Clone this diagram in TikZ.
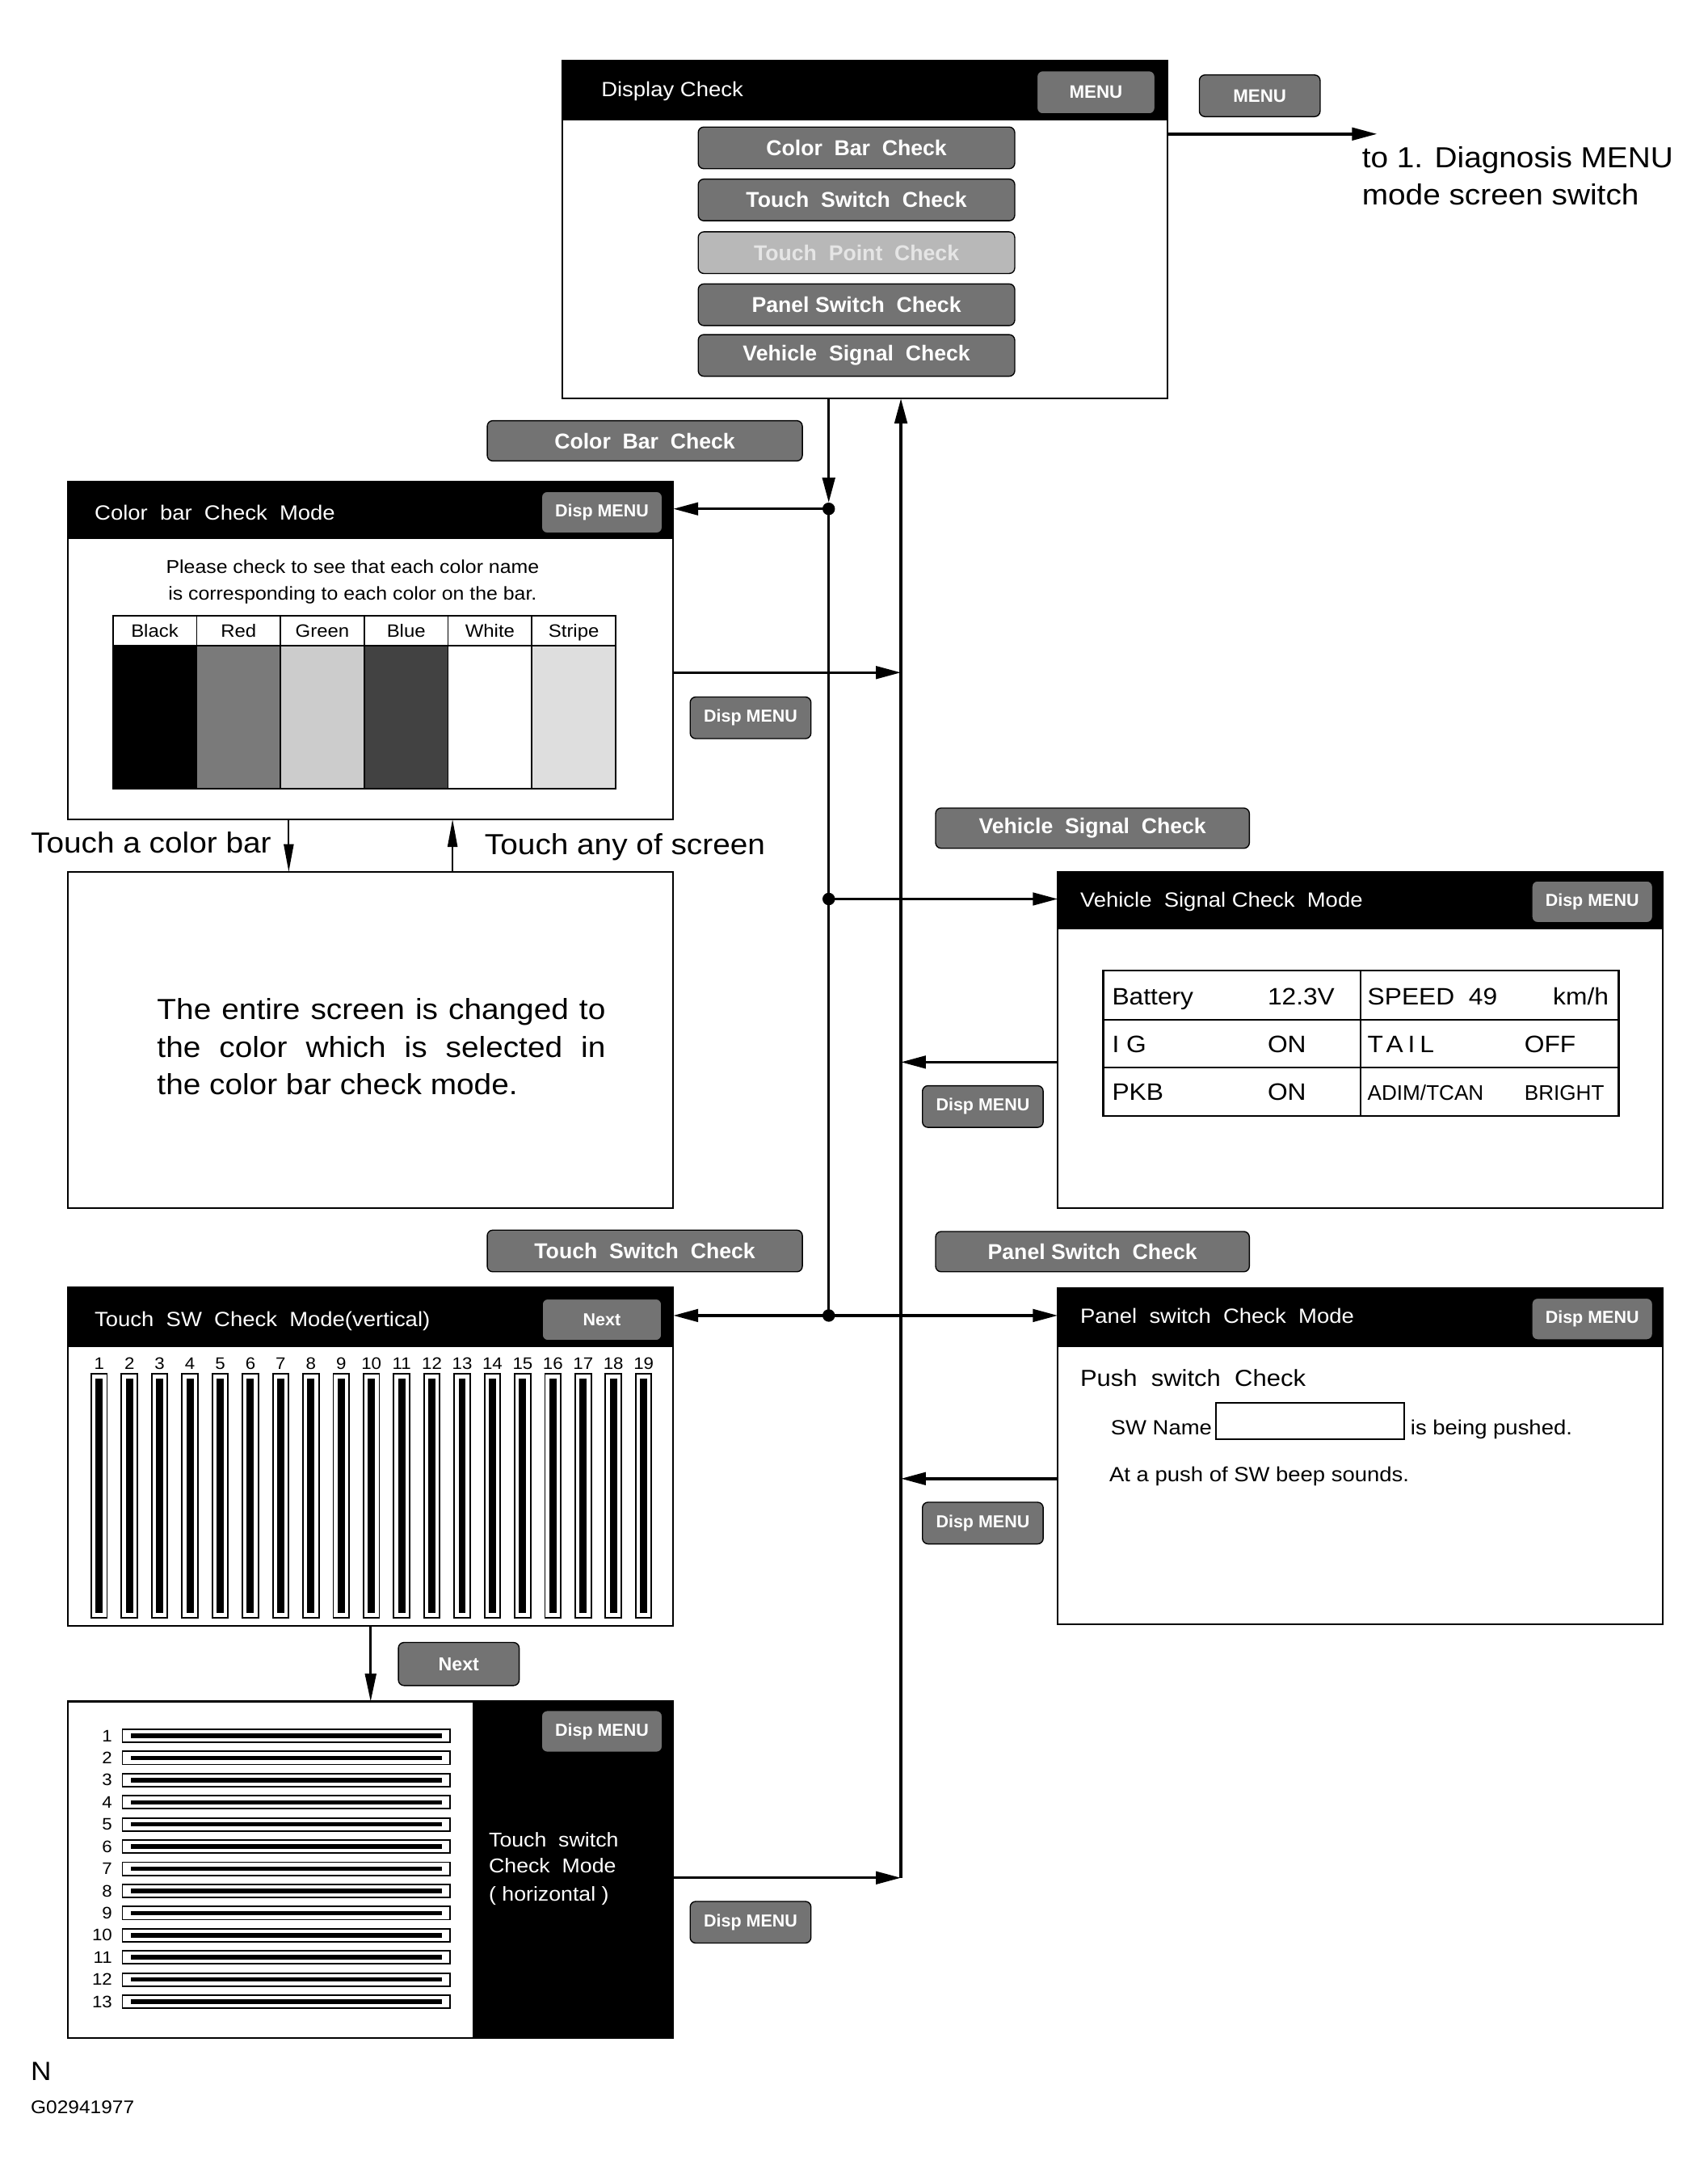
\documentclass[tikz,border=0pt]{standalone}
\usepackage{fontspec}
\setmainfont{Liberation Sans}[FakeStretch=1.08]
\newfontfamily\btnfont{Liberation Sans}
\usetikzlibrary{arrows.meta}
\newcommand\fsz[2]{\fontsize{#1}{#2}\selectfont}
\begin{document}
\begin{tikzpicture}[x=1pt,y=-1pt,
  screen/.style={draw, line width=1.3pt, minimum width=436pt, anchor=north west, inner sep=0pt, outer sep=0pt},
  btn/.style={draw=black, line width=0.8pt, rounded corners=4pt, fill=black!55, text=white, font=\btnfont\bfseries\fsz{15.5}{18}, inner sep=0pt, minimum height=30pt},
  dbtn/.style={btn, minimum width=87pt, font=\btnfont\bfseries\fsz{12.5}{14}},
  title/.style={text=white, anchor=base west, inner sep=0pt, font=\fsz{14.8}{17}},
  lbl/.style={anchor=base west, inner sep=0pt},
  big/.style={font=\fsz{20.9}{25}},
  vt/.style={font=\fsz{17.1}{20}},
  conn/.style={line width=2pt},
  arr/.style={conn, -{Triangle[length=18pt,width=9pt]}},
  thinarr/.style={line width=1.3pt, -{Triangle[length=20pt,width=7pt]}},
]
\useasboundingbox (0,0) rectangle (1230,1568);

% ---------------- Display Check
\node[screen, minimum height=243pt] (dc) at (405,44) {};
\fill (dc.north west) rectangle ([yshift=-43pt]dc.north east);
\node[title] (dct) at (433,69.5) {Display Check};
\node[btn, minimum width=85pt, minimum height=31pt, font=\btnfont\bfseries\fsz{13}{15}] (dcm) at (789.5,66.5) {MENU};
\node[btn, minimum width=228pt] (db1) at (617,106.5) {Color\ \ Bar\ \ Check};
\node[btn, minimum width=228pt] (db2) at (617,144) {Touch\ \ Switch\ \ Check};
\node[btn, minimum width=228pt, fill=black!28, text=black!10] (db3) at (617,182) {Touch\ \ Point\ \ Check};
\node[btn, minimum width=228pt] (db4) at (617,219.5) {Panel Switch\ \ Check};
\node[btn, minimum width=228pt] (db5) at (617,256) {Vehicle\ \ Signal\ \ Check};

\node[btn, minimum width=87pt, font=\btnfont\bfseries\fsz{13}{15}] (menu) at (907.5,69) {MENU};
\coordinate (diag) at (992,96.5);
\draw[arr] (dc.east |- diag) -- (diag);
\node[lbl, big] (diag1) at (981,120.5) {to 1. Diagnosis MENU};
\node[lbl, big] (diag2) at (981,147.5) {mode screen switch};

% ---------------- junctions / trunk lines
\coordinate (j1) at (597,366.5);
\coordinate (j2) at (597,647.5);
\coordinate (j3) at (597,947.5);
\coordinate (lb1) at (649,484.4);
\coordinate (lb2) at (649,765);
\coordinate (lb3) at (649,1065);
\coordinate (lb4) at (649,1352.5);

\draw[arr, shorten >=4.5pt] (dc.south -| j1) -- (j1);
\draw[conn] (j1) -- (j3);

% ---------------- Color bar check
\node[btn, minimum width=227pt, minimum height=29pt] (cbb) at (464.5,317.5) {Color\ \ Bar\ \ Check};
\node[screen, minimum height=243pt] (cb) at (49,347) {};
\fill (cb.north west) rectangle ([yshift=-41.5pt]cb.north east);
\node[title] (cbt) at (68,374.3) {Color\ \ bar\ \ Check\ \ Mode};
\node[dbtn] (cbm) at (433.6,369) {Disp MENU};
\draw[arr] (j1) -- (j1 -| cb.east);
\node[anchor=base, inner sep=0pt, font=\fsz{13.4}{16}] (pc1) at (254,413) {Please check to see that each color name};
\node[anchor=base, inner sep=0pt, font=\fsz{13.4}{16}] (pc2) at (254,432) {is corresponding to each color on the bar.};
\foreach \i/\c in {0/black,1/black!52,2/black!20,3/black!74,4/white,5/black!13} {
  \fill[\c] (81.3+60.37*\i,465) rectangle (81.3+60.37*\i+60.37,568);
}
\foreach \i in {1,...,5} { \draw[line width=1pt] (81.3+60.37*\i,443.6) -- (81.3+60.37*\i,568); }
\draw[line width=1.1pt] (81.3,443.6) rectangle (443.5,568);
\draw[line width=1.6pt] (81.3,465) -- (443.5,465);
\foreach \i/\t in {0/Black,1/Red,2/Green,3/Blue,4/White,5/Stripe} {
  \node[anchor=base, inner sep=0pt, font=\fsz{12.9}{15}] (ch\i) at (81.3+60.37*\i+30.18,459) {\t};
}
\draw[arr] (lb1 -| cb.east) -- (lb1);
\node[dbtn] (dm1) at (540.7,517) {Disp MENU};

% ---------------- Entire screen
\node[screen, minimum height=242pt] (ce) at (49,628) {};
\draw[thinarr] ([xshift=-59pt]cb.south) -- ([xshift=-59pt]ce.north);
\draw[thinarr] ([xshift=59pt]ce.north) -- ([xshift=59pt]cb.south);
\node[lbl, big] (tcb) at (22,614.5) {Touch a color bar};
\node[lbl, big] (tas) at (349,615.5) {Touch any of screen};
\node[lbl, big] (es1) at (113,734.5) {\makebox[323pt][s]{The entire screen is changed to}};
\node[lbl, big] (es2) at (113,761.5) {\makebox[323pt][s]{the color which is selected in}};
\node[lbl, big] (es3) at (113,788.5) {the color bar check mode.};

% ---------------- Vehicle signal check
\node[btn, minimum width=226pt, minimum height=29pt] (vsb) at (787,596.5) {Vehicle\ \ Signal\ \ Check};
\node[screen, minimum height=242pt] (vs) at (762,628) {};
\fill (vs.north west) rectangle ([yshift=-41.5pt]vs.north east);
\node[title] (vst) at (778,653.3) {Vehicle\ \ Signal Check\ \ Mode};
\node[dbtn] (vsm) at (1147,649.5) {Disp MENU};
\draw[arr] (j2) -- (j2 -| vs.west);
\draw[line width=1.4pt] (794.8,699) rectangle (1166,803.8);
\draw[line width=1pt] (794.8,734.5) -- (1166,734.5) (794.8,769) -- (1166,769) (980.3,699) -- (980.3,803.8);
\node[lbl, vt] (vb) at (801,724) {Battery};
\node[lbl, vt] (vbv) at (913,724) {12.3V};
\node[lbl, vt] (vsp) at (985,724) {SPEED\ \ 49};
\node[vt, anchor=base east, inner sep=0pt] (vkm) at (1159,724) {km/h};
\node[lbl, vt] (vig) at (801,758) {\addfontfeature{LetterSpace=30}IG};
\node[lbl, vt] (vigv) at (913,758) {ON};
\node[lbl, vt] (vtl) at (985,758) {\addfontfeature{LetterSpace=20}TAIL};
\node[lbl, vt] (vtlv) at (1098,758) {OFF};
\node[lbl, vt] (vpk) at (801,792.5) {PKB};
\node[lbl, vt] (vpkv) at (913,792.5) {ON};
\node[lbl, font=\btnfont\fsz{15.2}{17}] (vad) at (985,792.5) {ADIM/TCAN};
\node[lbl, font=\btnfont\fsz{15.2}{17}] (vadv) at (1098,792.5) {BRIGHT};
\draw[arr] (lb2 -| vs.west) -- (lb2);
\node[dbtn] (dm2) at (708,797) {Disp MENU};

% ---------------- Touch switch (vertical)
\node[btn, minimum width=227pt] (tsb) at (464.5,901) {Touch\ \ Switch\ \ Check};
\node[screen, minimum height=243.5pt] (ts) at (49,927.5) {};
\fill (ts.north west) rectangle ([yshift=-43pt]ts.north east);
\node[title] (tst) at (68,955.3) {Touch\ \ SW\ \ Check\ \ Mode(vertical)};
\node[dbtn, minimum width=86pt] (tsn) at (433.6,950.5) {Next};
\draw[arr] (j3) -- (j3 -| ts.east);
\foreach \i in {1,...,19} {
  \pgfmathsetmacro\xc{71.45+21.79*(\i-1)}
  \node[font=\fsz{12}{14}, anchor=base, inner sep=0pt] (tn\i) at (\xc,986.5) {\i};
  \draw[line width=1.1pt, fill=white] (\xc-5.7,989.5) rectangle (\xc+5.7,1165.2);
  \fill (\xc-2.6,993) rectangle (\xc+2.6,1161.7);
}

% ---------------- Panel switch
\node[btn, minimum width=226pt, minimum height=29pt] (psb) at (787,901.5) {Panel Switch\ \ Check};
\node[screen, minimum height=242.4pt] (ps) at (762,927.6) {};
\fill (ps.north west) rectangle ([yshift=-42.7pt]ps.north east);
\node[title] (pst) at (778,953.3) {Panel\ \ switch\ \ Check\ \ Mode};
\node[dbtn] (psm) at (1147,950) {Disp MENU};
\draw[arr] (j3) -- (j3 -| ps.west);
\node[lbl, font=\fsz{16.7}{19}] (psh) at (778,998.5) {Push\ \ switch\ \ Check};
\node[lbl, font=\fsz{14.8}{17}] (swn) at (800,1033.3) {SW Name};
\node[draw, line width=1pt, minimum width=135.4pt, minimum height=26.4pt, anchor=north west, inner sep=0pt] (swbox) at (875.6,1009.8) {};
\node[lbl, font=\fsz{14.8}{17}] (pushed) at (1016,1033.3) {is being pushed.};
\node[lbl, font=\fsz{14.8}{17}] (beep) at (799,1067.3) {At a push of SW beep sounds.};
\draw[arr] (lb3 -| ps.west) -- (lb3);
\node[dbtn] (dm3) at (708,1097) {Disp MENU};

% ---------------- Touch switch (horizontal)
\node[dbtn, minimum height=31pt, font=\btnfont\bfseries\fsz{13.5}{15}] (nxt) at (330.5,1198.5) {Next};
\node[screen, minimum height=242.5pt] (th) at (49,1225.5) {};
\fill (340.4,1225.5) rectangle (th.south east);
\node[dbtn] (thm) at (433.6,1247) {Disp MENU};
\draw[line width=1.5pt, -{Triangle[length=20pt,width=8pt]}] (ts.south) -- (th.north);
\foreach \i in {1,...,13} {
  \pgfmathsetmacro\yc{1250.2+15.96*(\i-1)}
  \node[font=\fsz{12}{14}, anchor=east, inner sep=0pt] (hn\i) at (81,\yc) {\i};
  \draw[line width=1.1pt] (88.2,\yc-4.7) rectangle (324,\yc+4.7);
  \fill (94.3,\yc-1.6) rectangle (318.3,\yc+1.6);
}
\node[lbl, text=white, font=\fsz{14.4}{17}] (tht1) at (352,1330.5) {Touch\ \ switch};
\node[lbl, text=white, font=\fsz{14.4}{17}] (tht2) at (352,1349) {Check\ \ Mode};
\node[lbl, text=white, font=\fsz{14.4}{17}] (tht3) at (352,1369) {( horizontal )};
\draw[arr] (lb4 -| th.east) -- (lb4);
\draw[arr] (lb4) -- (lb4 |- dc.south);
\node[dbtn] (dm4) at (540.7,1384.5) {Disp MENU};

% junction dots
\foreach \j in {j1,j2,j3} { \fill (\j) circle[radius=4.5pt]; }

% ---------------- footer
\node[lbl, font=\fsz{19}{22}] (nn) at (22,1498.5) {N};
\node[lbl, font=\fsz{13.2}{15}] (gg) at (22,1522.5) {G02941977};
\end{tikzpicture}
\end{document}
